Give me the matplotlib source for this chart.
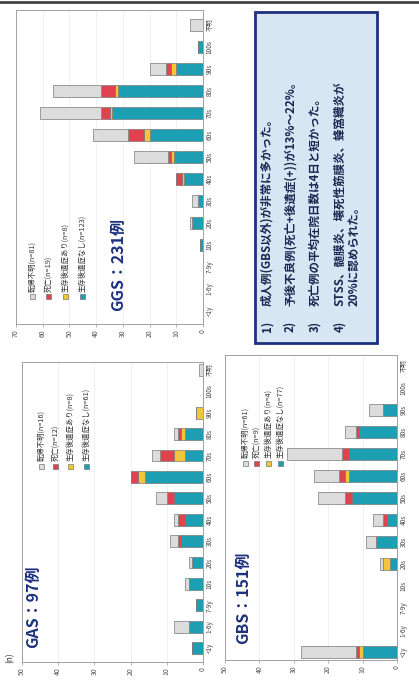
import numpy as np
import matplotlib
matplotlib.use("Agg")
import matplotlib.pyplot as plt
from matplotlib.patches import Rectangle

plt.rcParams["font.family"] = ["Noto Sans CJK JP", "DejaVu Sans"]

# age groups, bottom to top along the category axis
categories = ["<1y", "1-6y", "7-9y", "10s", "20s", "30s", "40s",
              "50s", "60s", "70s", "80s", "90s", "100s", "不明"]

outcome_labels = ["転帰不明", "死亡", "生存後遺症あり", "生存後遺症なし"]

# GAS (n=97)
gas_none = [3, 4, 2, 4, 3, 6, 5, 8, 16, 5, 5, 0, 0, 0]
gas_seq = [0, 0, 0, 0, 0, 0, 0, 0, 2, 3, 1, 2, 0, 0]
gas_dead = [0, 0, 0, 0, 0, 1, 2, 2, 2, 4, 1, 0, 0, 0]
gas_unk = [0, 4, 0, 1, 1, 2, 1, 3, 0, 2, 1, 0, 0, 1]

# GGS (n=231)
ggs_none = [0, 0, 0, 1, 4, 2, 7, 11, 20, 34, 32, 10, 2, 0]
ggs_seq = [0, 0, 0, 0, 0, 0, 1, 1, 2, 1, 1, 2, 0, 0]
ggs_dead = [0, 0, 0, 0, 0, 0, 2, 1, 6, 3, 5, 2, 0, 0]
ggs_unk = [0, 0, 0, 0, 1, 2, 0, 13, 13, 23, 18, 6, 0, 5]

# GBS (n=151)
gbs_none = [10, 0, 0, 0, 2, 6, 3, 13, 14, 14, 11, 4, 0, 0]
gbs_seq = [1, 0, 0, 0, 2, 0, 0, 0, 1, 0, 0, 0, 0, 0]
gbs_dead = [1, 0, 0, 0, 0, 0, 1, 2, 2, 2, 1, 0, 0, 0]
gbs_unk = [16, 0, 0, 0, 1, 3, 3, 8, 7, 16, 3, 4, 0, 0]

notes = [
    ("1)", "成人例(GBS以外)が非常に多かった。"),
    ("2)", "予後不良例(死亡+後遺症(+))が13%～22%。"),
    ("3)", "死亡例の平均在院日数は4日と短かった。"),
    ("4)", "STSS、髄膜炎、壊死性筋膜炎、蜂窩織炎が"),
    ("", "20%に認められた。"),
]

C_GRAY = "#dcdcdc"
C_RED = "#e0434d"
C_YEL = "#f2c63a"
C_TEAL = "#1c9fb3"
NAVY = "#1d3180"

W, H = 419, 683
fig = plt.figure(figsize=(W / 100, H / 100), dpi=100)
fig.patch.set_facecolor("white")


def fx(px):
    return px / W


def fy(py):
    return 1 - py / H


def draw_panel(box, vmax, ylim, stacks, title, title_pos, legend_xs, legend_y, counts):
    x0, y0, x1, y1 = box
    ax = fig.add_axes([fx(x0), fy(y1), (x1 - x0) / W, (y1 - y0) / H])
    idx = np.arange(len(categories))
    left = np.zeros(len(categories))
    for vals, color in stacks:
        vals = np.array(vals, dtype=float)
        ax.barh(idx, vals, left=left, height=0.55, color=color,
                edgecolor="#7a7a7a", linewidth=0.5, zorder=3)
        left += vals
    ax.set_xlim(vmax, 0)
    ax.set_ylim(*ylim)
    ax.set_xticks(np.arange(0, vmax + 1, 10))
    ax.set_xticklabels([str(v) for v in range(0, vmax + 1, 10)], rotation=90,
                       fontsize=5, color="#555555")
    ax.set_yticks(idx)
    ax.set_yticklabels(categories, rotation=90, va="center", fontsize=4.6,
                       color="#444444")
    ax.yaxis.tick_right()
    ax.tick_params(axis="y", length=0, pad=2)
    ax.tick_params(axis="x", length=2, width=0.5, color="#999999", pad=2)
    ax.grid(axis="x", color="#ececec", linewidth=0.5, zorder=0)
    for sp in ax.spines.values():
        sp.set_color("#a0a0a0")
        sp.set_linewidth(0.7)

    fig.text(fx(title_pos[0]), fy(title_pos[1]), title, rotation=90,
             ha="center", va="bottom", fontsize=11.5, fontweight="bold",
             color=NAVY)

    colors = [C_GRAY, C_RED, C_YEL, C_TEAL]
    for lx, color, lab, n in zip(legend_xs, colors, outcome_labels, counts):
        fig.add_artist(Rectangle((fx(lx - 2.5), fy(legend_y + 2.5)), 5 / W, 5 / H,
                                 transform=fig.transFigure, facecolor=color,
                                 edgecolor="#777777", linewidth=0.5))
        fig.text(fx(lx), fy(legend_y - 5), f"{lab}(n={n})", rotation=90,
                 ha="center", va="bottom", fontsize=5.3, color="#333333")
    return ax


# GAS panel
draw_panel((22, 362, 203, 662), 50, (-0.65, 13.37),
           [(gas_none, C_TEAL), (gas_seq, C_YEL), (gas_dead, C_RED), (gas_unk, C_GRAY)],
           "GAS：97例", (33, 648), [41, 55, 70, 86], 466, [16, 12, 8, 61])
fig.text(fx(10), fy(663), "(n)", rotation=90, ha="center", va="bottom",
         fontsize=6, color="#333333")

# GGS panel
draw_panel((16, 10, 203, 324), 70, (-0.59, 13.68),
           [(ggs_none, C_TEAL), (ggs_seq, C_YEL), (ggs_dead, C_RED), (ggs_unk, C_GRAY)],
           "GGS：231例", (118, 311), [32, 48, 65, 82], 297, [81, 19, 8, 123])

# GBS panel
draw_panel((225, 355, 397, 660), 50, (-0.36, 13.5),
           [(gbs_none, C_TEAL), (gbs_seq, C_YEL), (gbs_dead, C_RED), (gbs_unk, C_GRAY)],
           "GBS：151例", (243, 644), [245, 256, 268, 280], 463, [61, 9, 4, 77])

# summary box
fig.add_artist(Rectangle((fx(255), fy(343)), (377 - 255) / W, (343 - 12) / H,
                         transform=fig.transFigure, facecolor="#d8e6f4",
                         edgecolor=NAVY, linewidth=2))
line_xs = [267, 290, 315, 340, 354]
for lx, (num, txt) in zip(line_xs, notes):
    if num:
        fig.text(fx(lx), fy(332), num, rotation=90, ha="center", va="bottom",
                 fontsize=8.3, fontweight="bold", color="#1b2550")
    fig.text(fx(lx), fy(306), txt, rotation=90, ha="center", va="bottom",
             fontsize=8.3, fontweight="bold", color="#1b2550")

# dark edge along the top
fig.add_artist(plt.Line2D([0, 1], [fy(2), fy(2)], transform=fig.transFigure,
                          color="#444444", linewidth=2))

fig.savefig("out.png", dpi=100)
